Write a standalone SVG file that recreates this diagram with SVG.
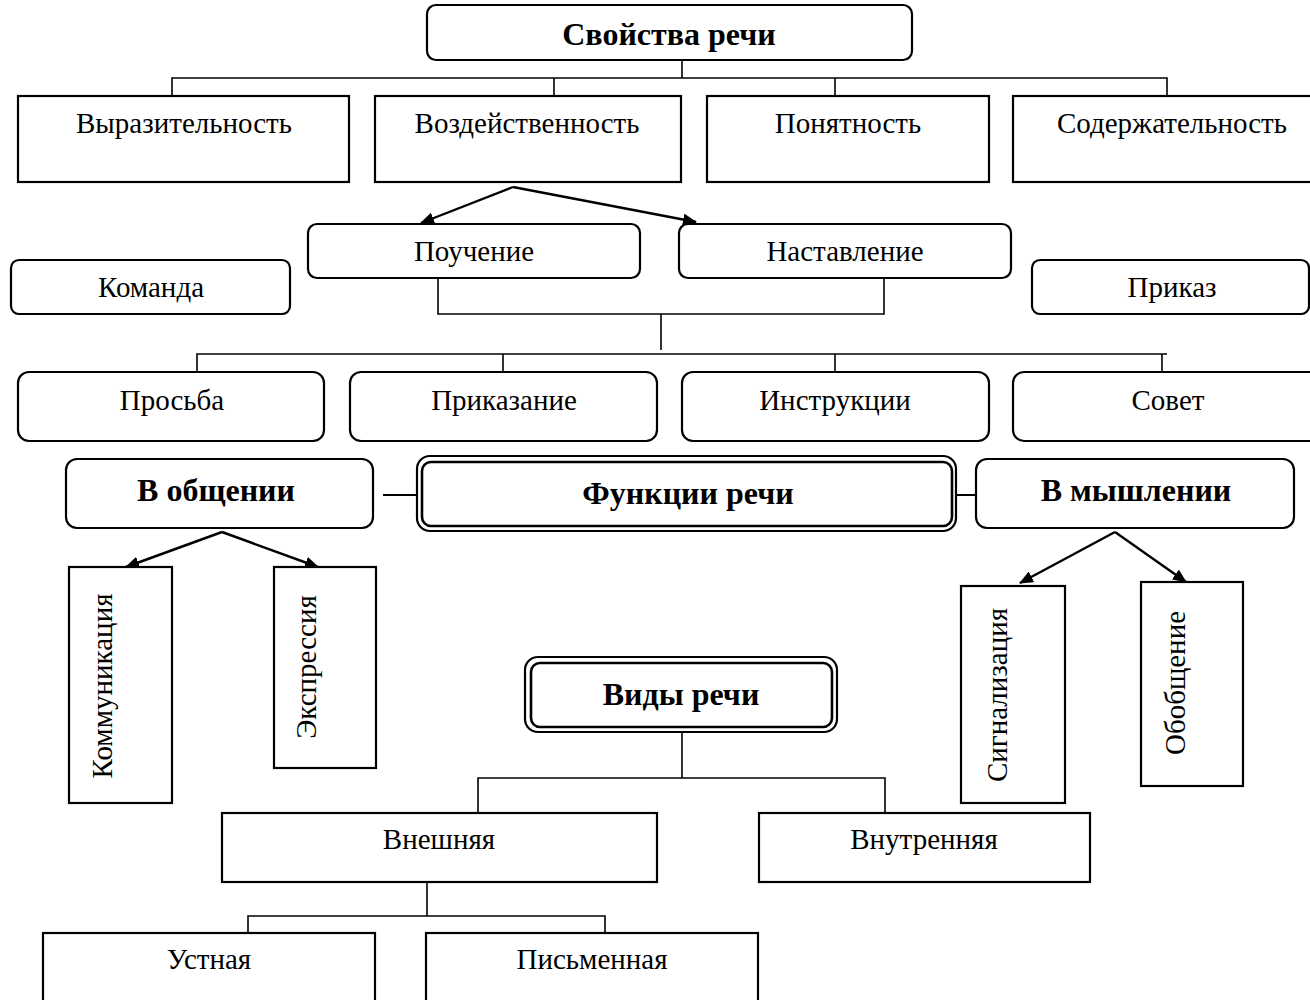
<svg xmlns="http://www.w3.org/2000/svg" width="1310" height="1000" viewBox="0 0 1310 1000">
<defs>
<marker id="ah" viewBox="0 0 14 12" refX="13" refY="6" markerWidth="14" markerHeight="12" markerUnits="userSpaceOnUse" orient="auto">
<path d="M0,0 L14,6 L0,12 Z" fill="#000"/>
</marker>
<style>
.b{fill:#fff;stroke:#000;stroke-width:2.2}
.t{font-family:"Liberation Serif","Times New Roman",serif;font-size:29px;text-anchor:middle;fill:#000}
.tb{font-family:"Liberation Serif","Times New Roman",serif;font-size:32px;font-weight:bold;text-anchor:middle;fill:#000}
.c{fill:none;stroke:#000;stroke-width:1.6}
.a{fill:none;stroke:#000;stroke-width:2.4;marker-end:url(#ah)}
</style>
</defs>
<rect width="1310" height="1000" fill="#fff"/>
<g id="connectors">
<path class="c" d="M682,60 V78 M172,96 V78 H1167 V96 M554,78 V96 M835,78 V96"/>
<path class="a" d="M513,187 L421,223"/>
<path class="a" d="M513,187 L696,222"/>
<path class="c" d="M438,278 V314 H884 V278 M661,314 V350"/>
<path class="c" d="M197,372 V354 H1167 M503,354 V372 M835,354 V372 M1162,354 V372"/>
<path class="c" d="M383,495 H419 M956,495 H976" style="stroke-width:2.2"/>
<path class="a" d="M222,532 L126,567"/>
<path class="a" d="M222,532 L318,567"/>
<path class="a" d="M1115,532 L1020,583"/>
<path class="a" d="M1115,532 L1186,582"/>
<path class="c" d="M682,732 V778 M478,813 V778 H885 V813"/>
<path class="c" d="M427,882 V916 M248,933 V916 H605 V933"/>
</g>
<g id="n-svoystva"><rect class="b" x="427" y="5" width="485" height="55" rx="9"/><text class="tb" x="669" y="45">Свойства речи</text></g>
<g id="n-vyraz"><rect class="b" x="18" y="96" width="331" height="86"/><text class="t" x="184" y="133">Выразительность</text></g>
<g id="n-vozd"><rect class="b" x="375" y="96" width="306" height="86"/><text class="t" x="527" y="133">Воздейственность</text></g>
<g id="n-ponyat"><rect class="b" x="707" y="96" width="282" height="86"/><text class="t" x="848" y="133">Понятность</text></g>
<g id="n-soderzh"><rect class="b" x="1013" y="96" width="320" height="86"/><text class="t" x="1172" y="133">Содержательность</text></g>
<g id="n-pouch"><rect class="b" x="308" y="224" width="332" height="54" rx="9"/><text class="t" x="474" y="261">Поучение</text></g>
<g id="n-nastav"><rect class="b" x="679" y="224" width="332" height="54" rx="9"/><text class="t" x="845" y="261">Наставление</text></g>
<g id="n-komanda"><rect class="b" x="11" y="260" width="279" height="54" rx="8"/><text class="t" x="151" y="297">Команда</text></g>
<g id="n-prikaz"><rect class="b" x="1032" y="260" width="277" height="54" rx="8"/><text class="t" x="1172" y="297">Приказ</text></g>
<g id="n-prosba"><rect class="b" x="18" y="372" width="306" height="69" rx="11"/><text class="t" x="172" y="410">Просьба</text></g>
<g id="n-prikazanie"><rect class="b" x="350" y="372" width="307" height="69" rx="11"/><text class="t" x="504" y="410">Приказание</text></g>
<g id="n-instr"><rect class="b" x="682" y="372" width="307" height="69" rx="11"/><text class="t" x="835" y="410">Инструкции</text></g>
<g id="n-sovet"><rect class="b" x="1013" y="372" width="320" height="69" rx="11"/><text class="t" x="1168" y="410">Совет</text></g>
<g id="n-obsch"><rect class="b" x="66" y="459" width="307" height="69" rx="11"/><text class="tb" x="216" y="501">В общении</text></g>
<g id="n-funkcii"><rect class="b" x="417" y="456" width="539" height="75" rx="13"/><rect class="b" x="422" y="462" width="530" height="64" rx="9" style="stroke-width:2.6"/><text class="tb" x="688" y="504">Функции речи</text></g>
<g id="n-myshl"><rect class="b" x="976" y="459" width="318" height="69" rx="11"/><text class="tb" x="1136" y="501">В мышлении</text></g>
<g id="n-komm"><rect class="b" x="69" y="567" width="103" height="236"/><text class="t" transform="translate(112,686) rotate(-90)">Коммуникация</text></g>
<g id="n-ekspr"><rect class="b" x="274" y="567" width="102" height="201"/><text class="t" transform="translate(316,667) rotate(-90)">Экспрессия</text></g>
<g id="n-signal"><rect class="b" x="961" y="586" width="104" height="217"/><text class="t" transform="translate(1007,695) rotate(-90)">Сигнализация</text></g>
<g id="n-obobsch"><rect class="b" x="1141" y="582" width="102" height="204"/><text class="t" transform="translate(1185,683) rotate(-90)">Обобщение</text></g>
<g id="n-vidy"><rect class="b" x="525" y="657" width="312" height="75" rx="13"/><rect class="b" x="531" y="663" width="301" height="64" rx="9" style="stroke-width:2.6"/><text class="tb" x="681" y="705">Виды речи</text></g>
<g id="n-vnesh"><rect class="b" x="222" y="813" width="435" height="69"/><text class="t" x="439" y="849">Внешняя</text></g>
<g id="n-vnutr"><rect class="b" x="759" y="813" width="331" height="69"/><text class="t" x="924" y="849">Внутренняя</text></g>
<g id="n-ustn"><rect class="b" x="43" y="933" width="332" height="90"/><text class="t" x="209" y="969">Устная</text></g>
<g id="n-pism"><rect class="b" x="426" y="933" width="332" height="90"/><text class="t" x="592" y="969">Письменная</text></g>
</svg>
